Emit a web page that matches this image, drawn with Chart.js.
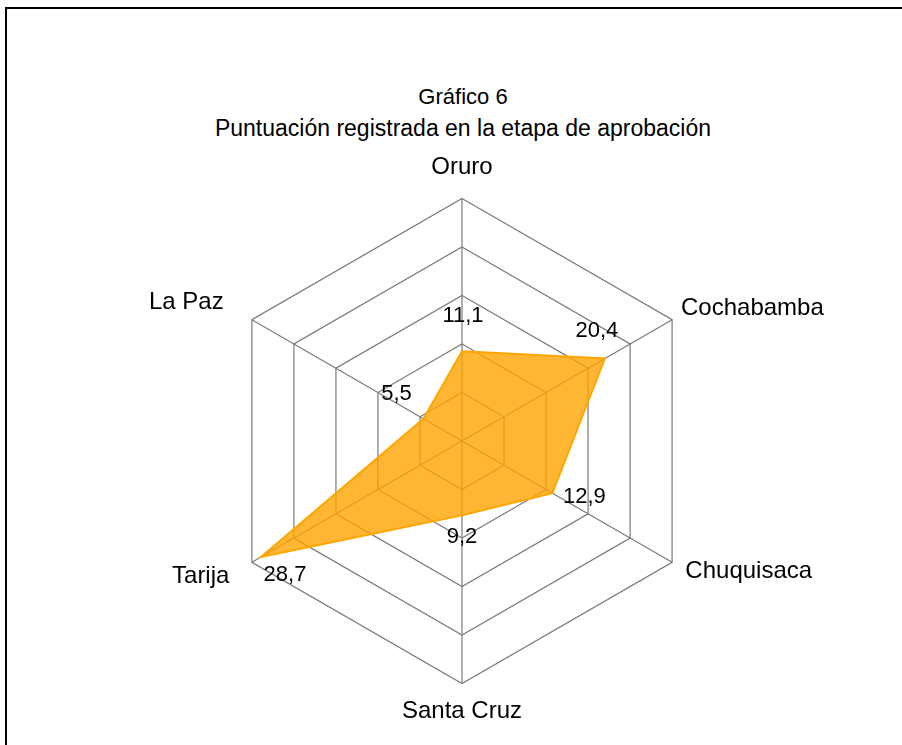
<!DOCTYPE html>
<html>
<head>
<meta charset="utf-8">
<script src="https://cdn.jsdelivr.net/npm/chart.js@4/dist/chart.umd.min.js"></script>
<style>
  html, body { margin: 0; padding: 0; background: #fff; overflow: hidden; width: 902px; height: 745px; }
  body { position: relative; font-family: "Liberation Sans", Arial, sans-serif; color: #000; }
  #frame { position: absolute; left: 5px; top: 7px; width: 920px; height: 760px; border-left: 2px solid #000; border-top: 2px solid #000; }
  .t { position: absolute; left: 0; width: 926px; text-align: center; white-space: nowrap; }
  #sub { top: 86px; font-size: 22px; line-height: 22px; }
  #main { top: 117px; font-size: 23px; line-height: 23px; }
  #wrap { position: absolute; left: 42px; top: 152px; width: 840px; height: 576px; }
</style>
</head>
<body>
<div id="frame"></div>
<div class="t" id="sub">Gráfico 6</div>
<div class="t" id="main">Puntuación registrada en la etapa de aprobación</div>
<div id="wrap"><canvas id="c" width="840" height="576"></canvas></div>
<script>
// ---- data ----
const categories = ["Oruro", "Cochabamba", "Chuquisaca", "Santa Cruz", "Tarija", "La Paz"];
const puntuacion = [11.1, 20.4, 12.9, 9.2, 28.7, 5.5];
const axisMin = 0;
const axisMax = 30;
const axisStep = 6;

// ---- styling (not data) ----
const labelPadding = [16.6, 10.3, 15.3, 12.9, 26, 32.6];
const labelLineHeight = [1.2, 0.48, 0.1, 1.2, 0.05, 0.05];
const valueLabelOffset = [[1, -35], [-8, -28], [32, 4], [0, 22], [24, 18], [-27, -25]];

const valueLabels = {
  id: 'valueLabels',
  afterDatasetsDraw(chart) {
    const ctx = chart.ctx;
    const meta = chart.getDatasetMeta(0);
    ctx.save();
    ctx.font = '22px "Liberation Sans", Arial, sans-serif';
    ctx.fillStyle = '#000';
    ctx.textAlign = 'center';
    ctx.textBaseline = 'middle';
    meta.data.forEach((pt, i) => {
      const v = chart.data.datasets[0].data[i];
      const o = valueLabelOffset[i];
      ctx.fillText(String(v).replace('.', ','), pt.x + o[0], pt.y + o[1]);
    });
    ctx.restore();
  }
};

new Chart(document.getElementById('c'), {
  type: 'radar',
  data: {
    labels: categories,
    datasets: [{
      label: 'Puntuación',
      data: puntuacion,
      backgroundColor: 'rgba(255,165,0,0.8)',
      borderColor: '#FFA500',
      borderWidth: 2,
      pointRadius: 0,
      pointHoverRadius: 0,
      fill: true
    }]
  },
  options: {
    responsive: false,
    animation: false,
    devicePixelRatio: 1,
    layout: { padding: 0 },
    plugins: {
      legend: { display: false },
      title: { display: false },
      tooltip: { enabled: false }
    },
    scales: {
      r: {
        min: axisMin,
        max: axisMax,
        ticks: { display: false, stepSize: axisStep },
        grid: { color: '#7a7a7a', lineWidth: 1.2 },
        angleLines: { color: '#7a7a7a', lineWidth: 1.2 },
        pointLabels: {
          color: '#000',
          padding: (ctx) => labelPadding[ctx.index],
          font: (ctx) => ({ family: '"Liberation Sans", Arial, sans-serif', size: 24, lineHeight: labelLineHeight[ctx.index] })
        }
      }
    }
  },
  plugins: [valueLabels]
});
</script>
</body>
</html>
